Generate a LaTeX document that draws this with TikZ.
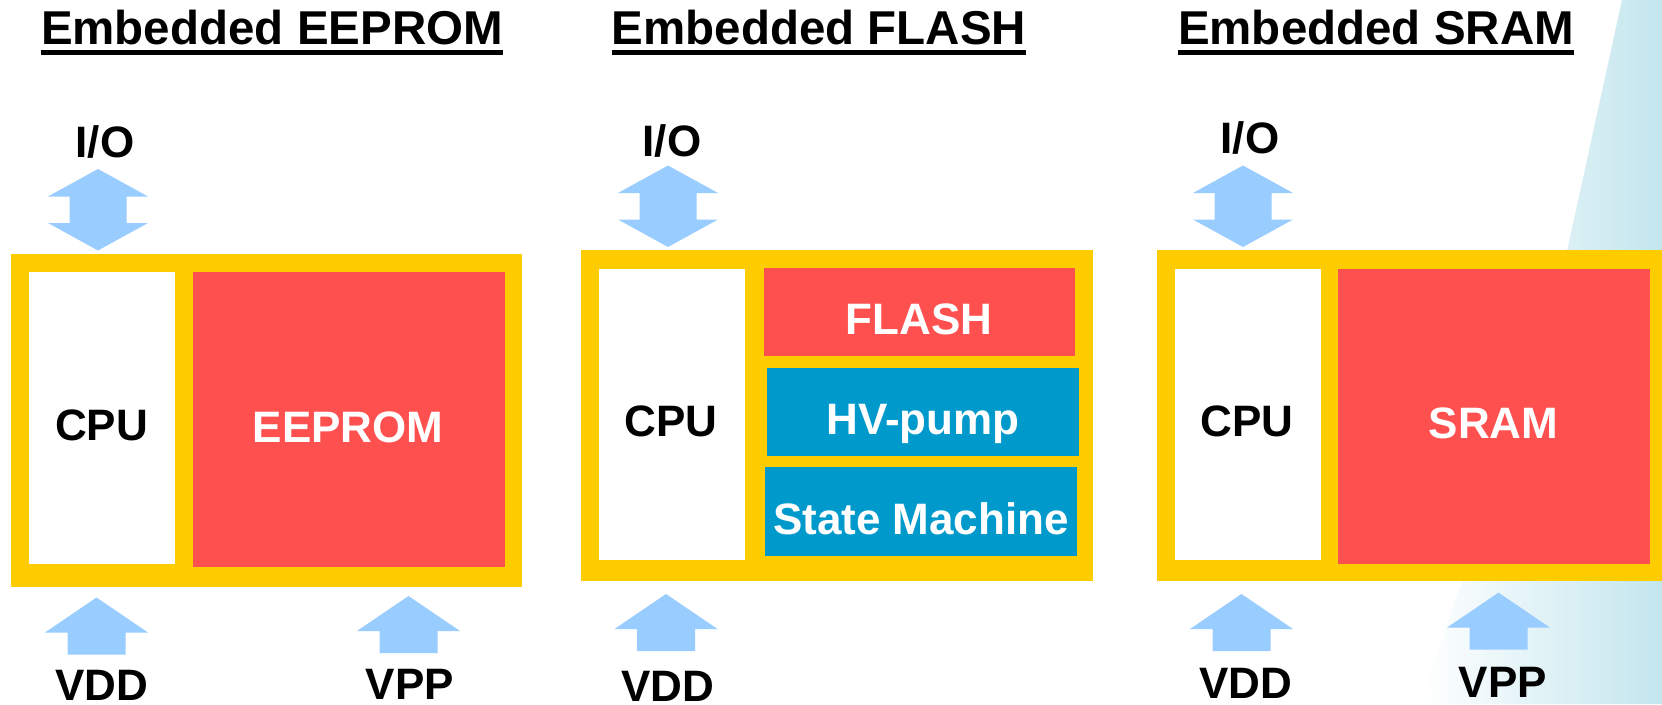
\documentclass[tikz,border=0pt]{standalone}
\usepackage{fontspec}
\setmainfont{Liberation Sans}
\usetikzlibrary{fit}
\definecolor{frameyellow}{HTML}{FFCC00}
\definecolor{memred}{HTML}{FF5050}
\definecolor{pumpblue}{HTML}{0099CC}
\definecolor{arrowblue}{HTML}{99CCFF}
\definecolor{bgcyan}{HTML}{C3E6EE}
\begin{document}
\begin{tikzpicture}[x=1pt,y=-1pt,
  blk/.style={fill=#1,inner sep=0pt,outer sep=0pt},
  lbl/.style={inner sep=0pt,anchor=base,font=\fontsize{44}{48}\selectfont\bfseries},
  wlbl/.style={lbl,text=white},
  ttl/.style={inner sep=0pt,anchor=base,font=\fontsize{47.5}{52}\selectfont\bfseries},
  uline/.style={line width=5.5pt},
  uparr/.pic={\fill[arrowblue] (0,0) -- (51.5,35) -- (29,35) -- (29,57) -- (-29,57) -- (-29,35) -- (-51.5,35) -- cycle;},
  dblarr/.pic={\fill[arrowblue] (0,0) -- (50,27.5) -- (28.5,27.5) -- (28.5,54) -- (50,54) -- (0,81.5) -- (-50,54) -- (-28.5,54) -- (-28.5,27.5) -- (-50,27.5) -- cycle;}
]
\useasboundingbox (0,0) rectangle (1662,704);
\clip (0,0) rectangle (1662,704);
\fill[white] (0,0) rectangle (1662,704);
% background decoration
\shade[left color=white,right color=bgcyan] (1622,0) -- (1662,0) -- (1662,704) -- (1420,704) -- (1500,470) -- (1567,251) -- cycle;

% ---------- Panel 1: EEPROM ----------
\node[ttl] (t1) at (272,44.7) {Embedded EEPROM};
\draw[uline] ([yshift=-8pt]t1.base west) -- ([yshift=-8pt]t1.base east);
\node[lbl] (io1) at (105,157) {I/O};
\pic at (98,169) {dblarr};
\node[blk=frameyellow,fit={(11,254) (522,586.5)}] (frame1) {};
\node[blk=white,fit={(29,272) (175,564)}] (cpu1) {};
\node[blk=memred,fit={(193,272) (505,567)}] (mem1) {};
\node[lbl] (cpu1t) at (101.5,440.5) {CPU};
\node[wlbl] (mem1t) at (348,442) {EEPROM};
\pic at (96.5,597.5) {uparr};
\pic at (408.5,596) {uparr};
\node[lbl] (vdd1) at (102,700) {VDD};
\node[lbl] (vpp1) at (410,699) {VPP};

% ---------- Panel 2: FLASH ----------
\node[ttl] (t2) at (819,44.7) {Embedded FLASH};
\draw[uline] ([yshift=-8pt]t2.base west) -- ([yshift=-8pt]t2.base east);
\node[lbl] (io2) at (672,156.5) {I/O};
\pic at (668,165.5) {dblarr};
\node[blk=frameyellow,fit={(581,250.4) (1093,581.4)}] (frame2) {};
\node[blk=white,fit={(599,268.8) (745,560.4)}] (cpu2) {};
\node[blk=memred,fit={(764,268) (1074.6,356)}] (flash2) {};
\node[blk=pumpblue,fit={(767,367.6) (1078.6,455.7)}] (hv2) {};
\node[blk=pumpblue,fit={(765,467) (1076.8,555.5)}] (sm2) {};
\node[lbl] (cpu2t) at (671,436) {CPU};
\node[wlbl] (flash2t) at (919,334.5) {FLASH};
\node[wlbl] (hv2t) at (923,434) {HV-pump};
\node[wlbl] (sm2t) at (921,534.5) {State Machine};
\pic at (666,594) {uparr};
\node[lbl] (vdd2) at (668,701) {VDD};

% ---------- Panel 3: SRAM ----------
\node[ttl] (t3) at (1376,44.7) {Embedded SRAM};
\draw[uline] ([yshift=-8pt]t3.base west) -- ([yshift=-8pt]t3.base east);
\node[lbl] (io3) at (1250,153.4) {I/O};
\pic at (1243,165.5) {dblarr};
\node[blk=frameyellow,fit={(1157,250.4) (1668,581.4)}] (frame3) {};
\node[blk=white,fit={(1175,268.8) (1320.8,560.4)}] (cpu3) {};
\node[blk=memred,fit={(1338,268.8) (1650,563.5)}] (mem3) {};
\node[lbl] (cpu3t) at (1247,436) {CPU};
\node[wlbl] (mem3t) at (1493.6,438) {SRAM};
\pic at (1241.5,594) {uparr};
\pic at (1498.5,592.6) {uparr};
\node[lbl] (vdd3) at (1246,698) {VDD};
\node[lbl] (vpp3) at (1503,697) {VPP};
\end{tikzpicture}
\end{document}
